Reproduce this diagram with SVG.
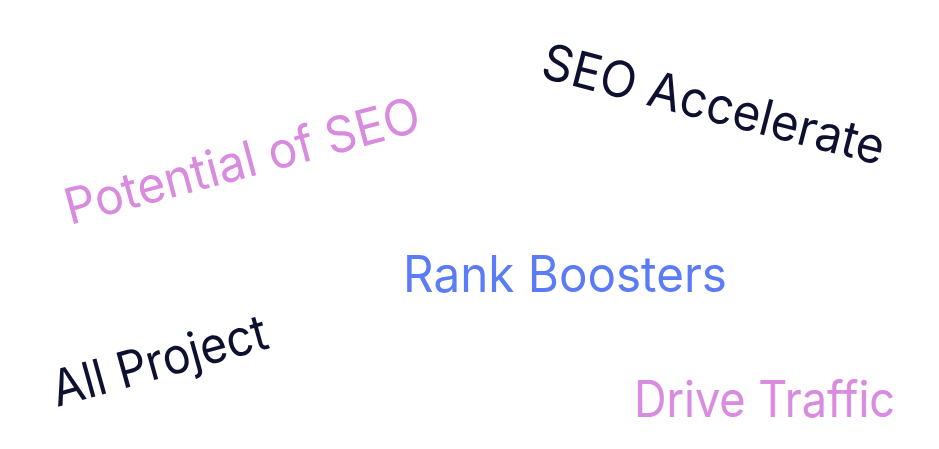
<svg xmlns="http://www.w3.org/2000/svg" width="939" height="449" viewBox="0 0 939 449">
<style>
text{font-family:Inter,"Liberation Sans",sans-serif;font-size:50px;font-weight:400}
.dark{fill:#0e1030}
.pink{fill:#d98be0}
.blue{fill:#5b7cf6}
</style>
<rect width="939" height="449" fill="#ffffff"/>
<g id="seo-accelerate" transform="translate(539,77) rotate(14.5)"><text class="dark" x="0" y="0" textLength="352" lengthAdjust="spacingAndGlyphs">SEO Accelerate</text></g>
<g id="potential-of-seo" transform="translate(70,225) rotate(-15)"><text class="pink" x="0" y="0" textLength="366" lengthAdjust="spacingAndGlyphs">Potential of SEO</text></g>
<g id="rank-boosters"><text class="blue" x="403" y="292" textLength="324" lengthAdjust="spacingAndGlyphs">Rank Boosters</text></g>
<g id="all-project" transform="translate(57,407) rotate(-15.5)"><text class="dark" x="0" y="0" textLength="222" lengthAdjust="spacingAndGlyphs">All Project</text></g>
<g id="drive-traffic"><text class="pink" x="634" y="417" textLength="261" lengthAdjust="spacingAndGlyphs">Drive Traffic</text></g>
<g id="connectors"></g>
</svg>
